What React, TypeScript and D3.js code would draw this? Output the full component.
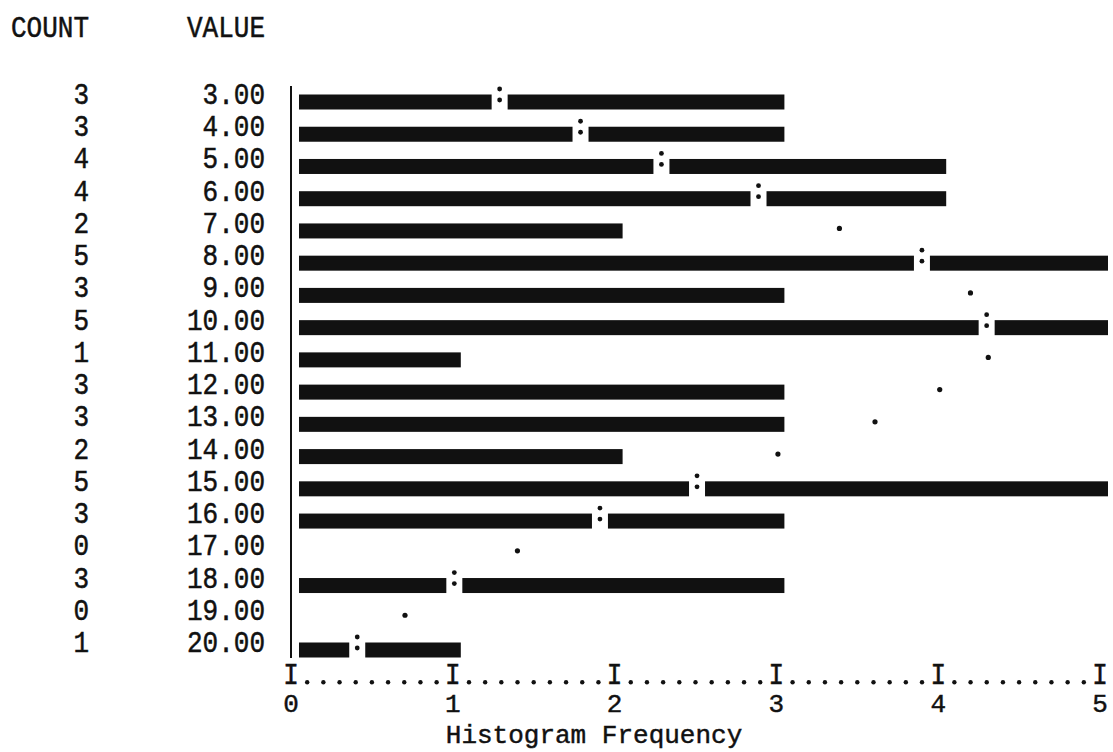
import React, { useEffect } from "react";
import * as d3 from "d3";

const values = ["3.00","4.00","5.00","6.00","7.00","8.00","9.00","10.00","11.00","12.00","13.00","14.00","15.00","16.00","17.00","18.00","19.00","20.00"];
const counts = [3,3,4,4,2,5,3,5,1,3,3,2,5,3,0,3,0,1];
const normal = [1.24,1.74,2.24,2.84,3.34,3.85,4.15,4.25,4.26,3.96,3.56,2.96,2.46,1.86,1.35,0.96,0.655,0.36];
const freqTicks = [0,1,2,3,4,5];
const xTitle = "Histogram Frequency";
const colHeaders = ["COUNT","VALUE"];

const FONT = "'Liberation Mono', 'DejaVu Sans Mono', monospace";
const INK = "#111";
const SY = 1.13;

function T({ x, y, anchor = "start", sy = SY, children }: { x: number; y: number; anchor?: string; sy?: number; children: React.ReactNode }) {
  return (
    <text transform={`translate(${x},${y}) scale(1,${sy})`} textAnchor={anchor} stroke={INK} strokeWidth={0.45}>
      {children}
    </text>
  );
}

export default function App() {
  useEffect(() => { document.body.style.margin = "0"; }, []);
  const W = 1113, H = 752;
  const xTick = d3.scaleLinear().domain([0, 5]).range([291, 1100]);
  const xBar = d3.scaleLinear().domain([0, 5]).range([299, 1108]);
  const y = d3.scalePoint<string>().domain(values).range([102, 650]);
  const step = y.step();
  const last = y(values[values.length - 1])!;
  const barH = 15;
  const fs = 26;
  const minor: number[] = [];
  for (let i = 0; i < 5; i++) for (let k = 1; k < 10; k++) minor.push(i + k / 10);

  return (
    <svg width={W} height={H} style={{ display: "block", background: "#fff" }}>
      <rect width={W} height={H} fill="#fff" />
      <g fontFamily={FONT} fontSize={fs} fill={INK}>
        <T x={89} y={37} anchor="end">{colHeaders[0]}</T>
        <T x={265} y={37} anchor="end">{colHeaders[1]}</T>
        {values.map((v, i) => (
          <g key={v}>
            <T x={89} y={y(v)! + 2} anchor="end">{counts[i]}</T>
            <T x={265} y={y(v)! + 2} anchor="end">{v}</T>
          </g>
        ))}
      </g>
      <line x1={291} x2={291} y1={y(values[0])! - 16} y2={last + 8} stroke={INK} strokeWidth={2} />
      {values.map((v, i) => {
        const c = y(v)!;
        const n = normal[i];
        const cnt = counts[i];
        const x0 = xBar(0), x1 = xBar(cnt), xn = xBar(n);
        const marks: React.ReactNode[] = [];
        if (cnt > 0) {
          if (n < cnt) {
            marks.push(<rect key="a" x={x0} y={c - barH / 2} width={Math.max(0, xn - 8 - x0)} height={barH} fill={INK} />);
            marks.push(<rect key="b" x={xn + 8} y={c - barH / 2} width={Math.max(0, x1 - xn - 8)} height={barH} fill={INK} />);
            marks.push(<circle key="c1" cx={xn} cy={c - 13} r={2.4} fill={INK} />);
            marks.push(<circle key="c2" cx={xn} cy={c - 2} r={2.4} fill={INK} />);
          } else {
            marks.push(<rect key="a" x={x0} y={c - barH / 2} width={x1 - x0} height={barH} fill={INK} />);
            marks.push(<circle key="d" cx={xn} cy={c - 2.5} r={2.6} fill={INK} />);
          }
        } else {
          marks.push(<circle key="d" cx={xn} cy={c - 2.5} r={2.6} fill={INK} />);
        }
        return <g key={v}>{marks}</g>;
      })}
      <g fontFamily={FONT} fontSize={fs} fill={INK}>
        {freqTicks.map((t) => (
          <T key={"I" + t} x={xTick(t)} y={last + step + 2} anchor="middle">I</T>
        ))}
        {minor.map((m, i) => (
          <circle key={"m" + i} cx={xTick(m)} cy={last + step} r={2.2} fill={INK} />
        ))}
        {freqTicks.map((t) => (
          <T key={"l" + t} x={xTick(t)} y={last + 2 * step - 2} anchor="middle" sy={1.0}>{t}</T>
        ))}
        <T x={xTick(1) - 7} y={743} sy={1.0}>{xTitle}</T>
      </g>
    </svg>
  );
}
